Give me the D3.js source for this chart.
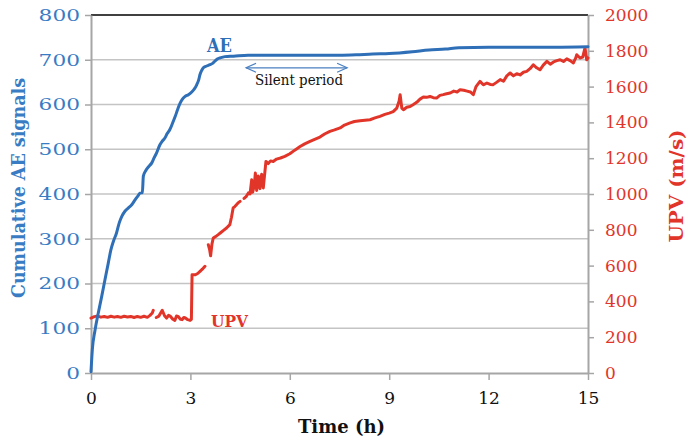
<!DOCTYPE html>
<html>
<head>
<meta charset="utf-8">
<script src="https://cdn.jsdelivr.net/npm/d3@7"></script>
<style>
  html, body { margin: 0; padding: 0; background: #fff; }
  svg { display: block; }
  text { font-family: "DejaVu Serif", serif; }
</style>
</head>
<body>
<svg id="chart" width="687" height="443"></svg>
<script>
// ---- data ----
var aeTime  = [0, 0.04, 0.12, 0.22, 0.32, 0.42, 0.52, 0.6, 0.68, 0.77, 0.85, 0.93, 1.03, 1.13, 1.23, 1.33, 1.42, 1.48, 1.55, 1.58, 1.65, 1.75, 1.83, 1.9, 1.98, 2.08, 2.15, 2.23, 2.3, 2.38, 2.46, 2.54, 2.62, 2.69, 2.76, 2.84, 2.94, 3.04, 3.12, 3.19, 3.25, 3.29, 3.34, 3.39, 3.49, 3.59, 3.67, 3.74, 3.82, 3.89, 4.04, 4.3, 4.74, 5.5, 6.5, 7.5, 8.0, 8.5, 9.0, 9.7, 10.2, 10.7, 11.1, 12, 13, 14, 15];
var aeValue = [3, 52, 95, 134, 170, 208, 245, 275, 295, 313, 335, 350, 362, 369, 376, 387, 396, 402, 403, 440, 452, 462, 469, 480, 492, 510, 518, 525, 535, 544, 558, 573, 590, 603, 612, 618, 622, 628, 635, 644, 655, 667, 676, 682, 686, 689, 692, 697, 702, 704, 707, 708, 710, 710, 710, 710, 711, 713, 714, 718, 722, 724, 727, 728, 728, 728, 729];

// null = gap in the UPV record
var upvTime  = [0, 0.1, 0.2, 0.3, 0.4, 0.5, 0.6, 0.7, 0.8, 0.9, 1.0, 1.1, 1.2, 1.3, 1.4, 1.5, 1.6, 1.7, 1.78, 1.85, 1.88, 1.92,
  1.97, 2.05, 2.15, 2.22, 2.28, 2.34, 2.4, 2.47, 2.53, 2.58, 2.63, 2.7, 2.75, 2.8, 2.85, 2.92, 2.99, 3.03, 3.05, 3.15, 3.22, 3.29, 3.36, 3.44, 3.49,
  3.54, 3.58, 3.61, 3.65, 3.69, 3.76, 3.84, 3.92, 4.0, 4.09, 4.19, 4.24, 4.29, 4.34, 4.39, 4.45, 4.5, 4.56,
  4.62, 4.68, 4.75, 4.8, 4.85, 4.88, 4.93, 4.96, 5.0, 5.05, 5.1, 5.15, 5.2, 5.28, 5.35, 5.42, 5.5, 5.6, 5.72, 5.85, 6.0, 6.15, 6.31, 6.45, 6.61, 6.75, 6.91, 7.05, 7.21, 7.35, 7.52, 7.65, 7.82, 7.95, 8.12, 8.27, 8.42, 8.57, 8.72, 8.87, 9.0, 9.12, 9.23, 9.3, 9.33, 9.38, 9.43, 9.53, 9.63, 9.73, 9.83, 9.93, 10.03, 10.13, 10.23, 10.33, 10.43, 10.53, 10.63, 10.73, 10.84, 10.95, 11.05, 11.14, 11.25, 11.35, 11.45, 11.54, 11.62, 11.74, 11.84, 11.95, 12.05, 12.14, 12.25, 12.35, 12.45, 12.55, 12.65, 12.75, 12.85, 12.95, 13.05, 13.15, 13.25, 13.35, 13.45, 13.55, 13.65, 13.76, 13.86, 13.96, 14.06, 14.16, 14.26, 14.36, 14.46, 14.56, 14.63, 14.66, 14.76, 14.84, 14.91, 14.96, 15];
var upvValue = [307, 315, 318, 312, 316, 311, 317, 312, 316, 311, 317, 313, 316, 310, 316, 311, 317, 311, 322, 335, 350, null,
  310, 318, 350, 320, 307, 322, 316, 300, 294, 318, 316, 300, 298, 310, 307, 298, 294, 300, 549, 549, 556, 568, 580, 596, null,
  717, 690, 655, 720, 754, 762, 773, 785, 797, 810, 829, 870, 922, 930, 940, 952, 959, null,
  975, 985, 1006, 1000, 1080, 1010, 1050, 1117, 1020, 1100, 1030, 1110, 1034, 1182, 1170, 1185, 1182, 1195, 1201, 1210, 1225, 1245, 1265, 1280, 1294, 1305, 1318, 1335, 1350, 1358, 1369, 1385, 1397, 1405, 1409, 1412, 1415, 1425, 1434, 1445, 1452, 1460, 1480, 1520, 1555, 1480, 1471, 1485, 1489, 1500, 1512, 1530, 1542, 1540, 1545, 1538, 1536, 1551, 1555, 1560, 1564, 1575, 1570, 1583, 1580, 1575, 1570, 1555, 1600, 1629, 1610, 1620, 1612, 1611, 1625, 1639, 1630, 1660, 1676, 1660, 1672, 1665, 1680, 1685, 1700, 1722, 1705, 1694, 1720, 1741, 1725, 1738, 1745, 1750, 1740, 1755, 1745, 1732, 1760, 1778, 1760, 1765, 1816, 1750, 1760];

var timeTicks = [0, 3, 6, 9, 12, 15];
var aeTicks = [0, 100, 200, 300, 400, 500, 600, 700, 800];
var upvTicks = [0, 200, 400, 600, 800, 1000, 1200, 1400, 1600, 1800, 2000];
var silentPeriod = [4.68, 7.73];   // hours, arrow span
var silentLevel = 682;             // on AE axis

// ---- layout ----
var svg = d3.select("#chart");
var L = 91, R = 588, T = 15, B = 373;
var blue = "#2e6fb7", red = "#e2352a", blueTxt = "#3a7cc3", grid = "#c4c4c4", axisCol = "#a6a6a6";

var x = d3.scaleLinear().domain([0, 15]).range([L, R]);
var yAE = d3.scaleLinear().domain([0, 800]).range([B, T]);
var yUPV = d3.scaleLinear().domain([0, 2000]).range([B, T]);
var fmt = d3.format("d");

// gridlines
svg.append("g").selectAll("line").data(aeTicks.filter(function (d) { return d > 0 && d < 800; }))
  .enter().append("line")
  .attr("x1", L).attr("x2", R).attr("y1", function (d) { return yAE(d); }).attr("y2", function (d) { return yAE(d); })
  .attr("stroke", grid).attr("stroke-width", 1.6);

// top border
svg.append("line").attr("x1", L).attr("x2", R).attr("y1", T).attr("y2", T).attr("stroke", "#000").attr("stroke-width", 1.3);

function styleAxis(g, col) {
  g.select(".domain").attr("stroke", axisCol).attr("stroke-width", 2);
  g.selectAll(".tick line").attr("stroke", axisCol).attr("stroke-width", 1.5);
  g.selectAll(".tick text").attr("fill", col).attr("font-size", 17).attr("font-family", "DejaVu Serif");
}

var gL = svg.append("g").attr("transform", "translate(" + L + ",0)")
  .call(d3.axisLeft(yAE).tickValues(aeTicks).tickFormat(fmt).tickSize(6).tickPadding(5).tickSizeOuter(0));
styleAxis(gL, blueTxt);
gL.selectAll(".tick text").attr("textLength", function (d) { return String(d).length * 13.8; }).attr("lengthAdjust", "spacingAndGlyphs");

var gR = svg.append("g").attr("transform", "translate(" + R + ",0)")
  .call(d3.axisRight(yUPV).tickValues(upvTicks).tickFormat(fmt).tickSize(6).tickPadding(11).tickSizeOuter(0));
styleAxis(gR, red);

var gB = svg.append("g").attr("transform", "translate(0," + B + ")")
  .call(d3.axisBottom(x).tickValues(timeTicks).tickFormat(fmt).tickSize(7).tickPadding(12).tickSizeOuter(0));
styleAxis(gB, "#111");

// ---- lines ----
var aeData = aeTime.map(function (t, i) { return { t: t, v: aeValue[i] }; });
var upvData = upvTime.map(function (t, i) { return { t: t, v: upvValue[i] }; });

svg.append("path").datum(upvData)
  .attr("d", d3.line().defined(function (d) { return d.v !== null; }).x(function (d) { return x(d.t); }).y(function (d) { return yUPV(d.v); }))
  .attr("fill", "none").attr("stroke", red).attr("stroke-width", 3).attr("stroke-linejoin", "round").attr("stroke-linecap", "round");

svg.append("path").datum(aeData)
  .attr("d", d3.line().x(function (d) { return x(d.t); }).y(function (d) { return yAE(d.v); }).curve(d3.curveMonotoneX))
  .attr("fill", "none").attr("stroke", blue).attr("stroke-width", 3).attr("stroke-linejoin", "round").attr("stroke-linecap", "round");

// ---- silent period arrow ----
var ax0 = x(silentPeriod[0]), ax1 = x(silentPeriod[1]), ay = yAE(silentLevel);
var arrowCol = "#4a80c0";
svg.append("line").attr("x1", ax0).attr("x2", ax1).attr("y1", ay).attr("y2", ay).attr("stroke", arrowCol).attr("stroke-width", 1.2);
svg.append("path").attr("d", "M" + (ax0 + 10) + "," + (ay - 4.5) + "L" + ax0 + "," + ay + "L" + (ax0 + 10) + "," + (ay + 4.5))
  .attr("fill", "none").attr("stroke", arrowCol).attr("stroke-width", 1.2);
svg.append("path").attr("d", "M" + (ax1 - 10) + "," + (ay - 4.5) + "L" + ax1 + "," + ay + "L" + (ax1 - 10) + "," + (ay + 4.5))
  .attr("fill", "none").attr("stroke", arrowCol).attr("stroke-width", 1.2);
svg.append("text").attr("x", 255).attr("y", 85).attr("font-size", 14).attr("fill", "#111")
  .attr("textLength", 88).attr("lengthAdjust", "spacingAndGlyphs").text("Silent period");

// ---- series labels ----
svg.append("text").attr("x", 207).attr("y", 52).attr("font-size", 18).attr("font-weight", "bold").attr("fill", blue)
  .attr("textLength", 25).attr("lengthAdjust", "spacingAndGlyphs").text("AE");
svg.append("text").attr("x", 211).attr("y", 327).attr("font-size", 17).attr("font-weight", "bold").attr("fill", red)
  .attr("textLength", 37).attr("lengthAdjust", "spacingAndGlyphs").text("UPV");

// ---- axis titles ----
svg.append("text").attr("x", 298).attr("y", 433).attr("font-size", 19).attr("font-weight", "bold").attr("fill", "#111")
  .attr("textLength", 87).attr("lengthAdjust", "spacingAndGlyphs").text("Time (h)");
svg.append("text").attr("transform", "translate(25,188) rotate(-90)").attr("text-anchor", "middle")
  .attr("font-size", 19).attr("font-weight", "bold").attr("fill", blueTxt)
  .attr("textLength", 220).attr("lengthAdjust", "spacingAndGlyphs").text("Cumulative AE signals");
svg.append("text").attr("transform", "translate(683,186) rotate(-90)").attr("text-anchor", "middle")
  .attr("font-size", 19).attr("font-weight", "bold").attr("fill", red)
  .attr("textLength", 113).attr("lengthAdjust", "spacingAndGlyphs").text("UPV (m/s)");
</script>
</body>
</html>
